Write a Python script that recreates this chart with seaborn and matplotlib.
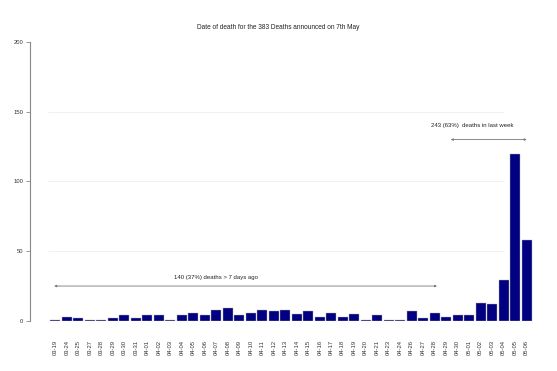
import numpy as np
import pandas as pd
import matplotlib
matplotlib.use('Agg')
import matplotlib.pyplot as plt
import seaborn as sns

dates = ['03-19', '03-24', '03-25', '03-27', '03-28', '03-29', '03-30', '03-31',
         '04-01', '04-02', '04-03', '04-04', '04-05', '04-06', '04-07', '04-08',
         '04-09', '04-10', '04-11', '04-12', '04-13', '04-14', '04-15', '04-16',
         '04-17', '04-18', '04-19', '04-20', '04-21', '04-23', '04-24', '04-26',
         '04-27', '04-28', '04-29', '04-30', '05-01', '05-02', '05-03', '05-04',
         '05-05', '05-06']
deaths = [1, 3, 2, 1, 1, 2, 4, 2,
          4, 4, 1, 4, 6, 4, 8, 9,
          4, 6, 8, 7, 8, 5, 7, 3,
          6, 3, 5, 1, 4, 1, 1, 7,
          2, 6, 3, 4, 4, 13, 12, 29,
          120, 58]

df = pd.DataFrame({'date': dates, 'deaths': deaths})

sns.set_style('white')
plt.rcParams['font.family'] = ['Liberation Sans', 'DejaVu Sans']

fig = plt.figure(figsize=(5.57, 3.71), dpi=100)
ax = fig.add_axes([0.054, 0.135, 0.906, 0.752])

sns.barplot(x='date', y='deaths', data=df, color='#000080', edgecolor='#b0b0b0',
            linewidth=0.3, width=0.85, saturation=1, ax=ax)

for yv in [50, 100, 150]:
    ax.axhline(yv, xmin=0.035, xmax=0.94, color='#f0f0f0', linewidth=0.6, zorder=0)

ax.set_xlim(-2.2, 41.7)
ax.set_ylim(0, 200)
ax.set_yticks([0, 50, 100, 150, 200])
ax.set_xlabel('')
ax.set_ylabel('')

for s in ['top', 'right', 'bottom']:
    ax.spines[s].set_visible(False)
ax.spines['left'].set_color('#888888')
ax.spines['left'].set_linewidth(0.8)
ax.tick_params(axis='y', length=3, width=0.6, color='#888888', labelsize=4.2,
               labelcolor='#333333', left=True, pad=2)
ax.tick_params(axis='x', length=0, labelsize=4.2, labelcolor='#333333',
               rotation=90, pad=14)

n_old = sum(deaths[:34])
n_new = sum(deaths[34:])
total = sum(deaths)

ax.annotate('', xy=(-0.1, 25), xytext=(33.2, 25),
            arrowprops=dict(arrowstyle='<|-|>', color='#777777', lw=0.6,
                            mutation_scale=3, shrinkA=0, shrinkB=0))
ax.text(14, 29, f'{n_old} ({round(100 * n_old / total)}%) deaths > 7 days ago',
        fontsize=4.3, ha='center', va='bottom', color='#222222')

ax.annotate('', xy=(34.4, 130), xytext=(41, 130),
            arrowprops=dict(arrowstyle='<|-|>', color='#777777', lw=0.6,
                            mutation_scale=3, shrinkA=0, shrinkB=0))
ax.text(36.3, 138, f'{n_new} ({round(100 * n_new / total)}%)  deaths in last week',
        fontsize=4.3, ha='center', va='bottom', color='#222222')

fig.suptitle(f'Date of death for the {total} Deaths announced on 7th May',
             fontsize=4.7, y=0.935, color='#222222')

fig.savefig('out.png', dpi=100)
